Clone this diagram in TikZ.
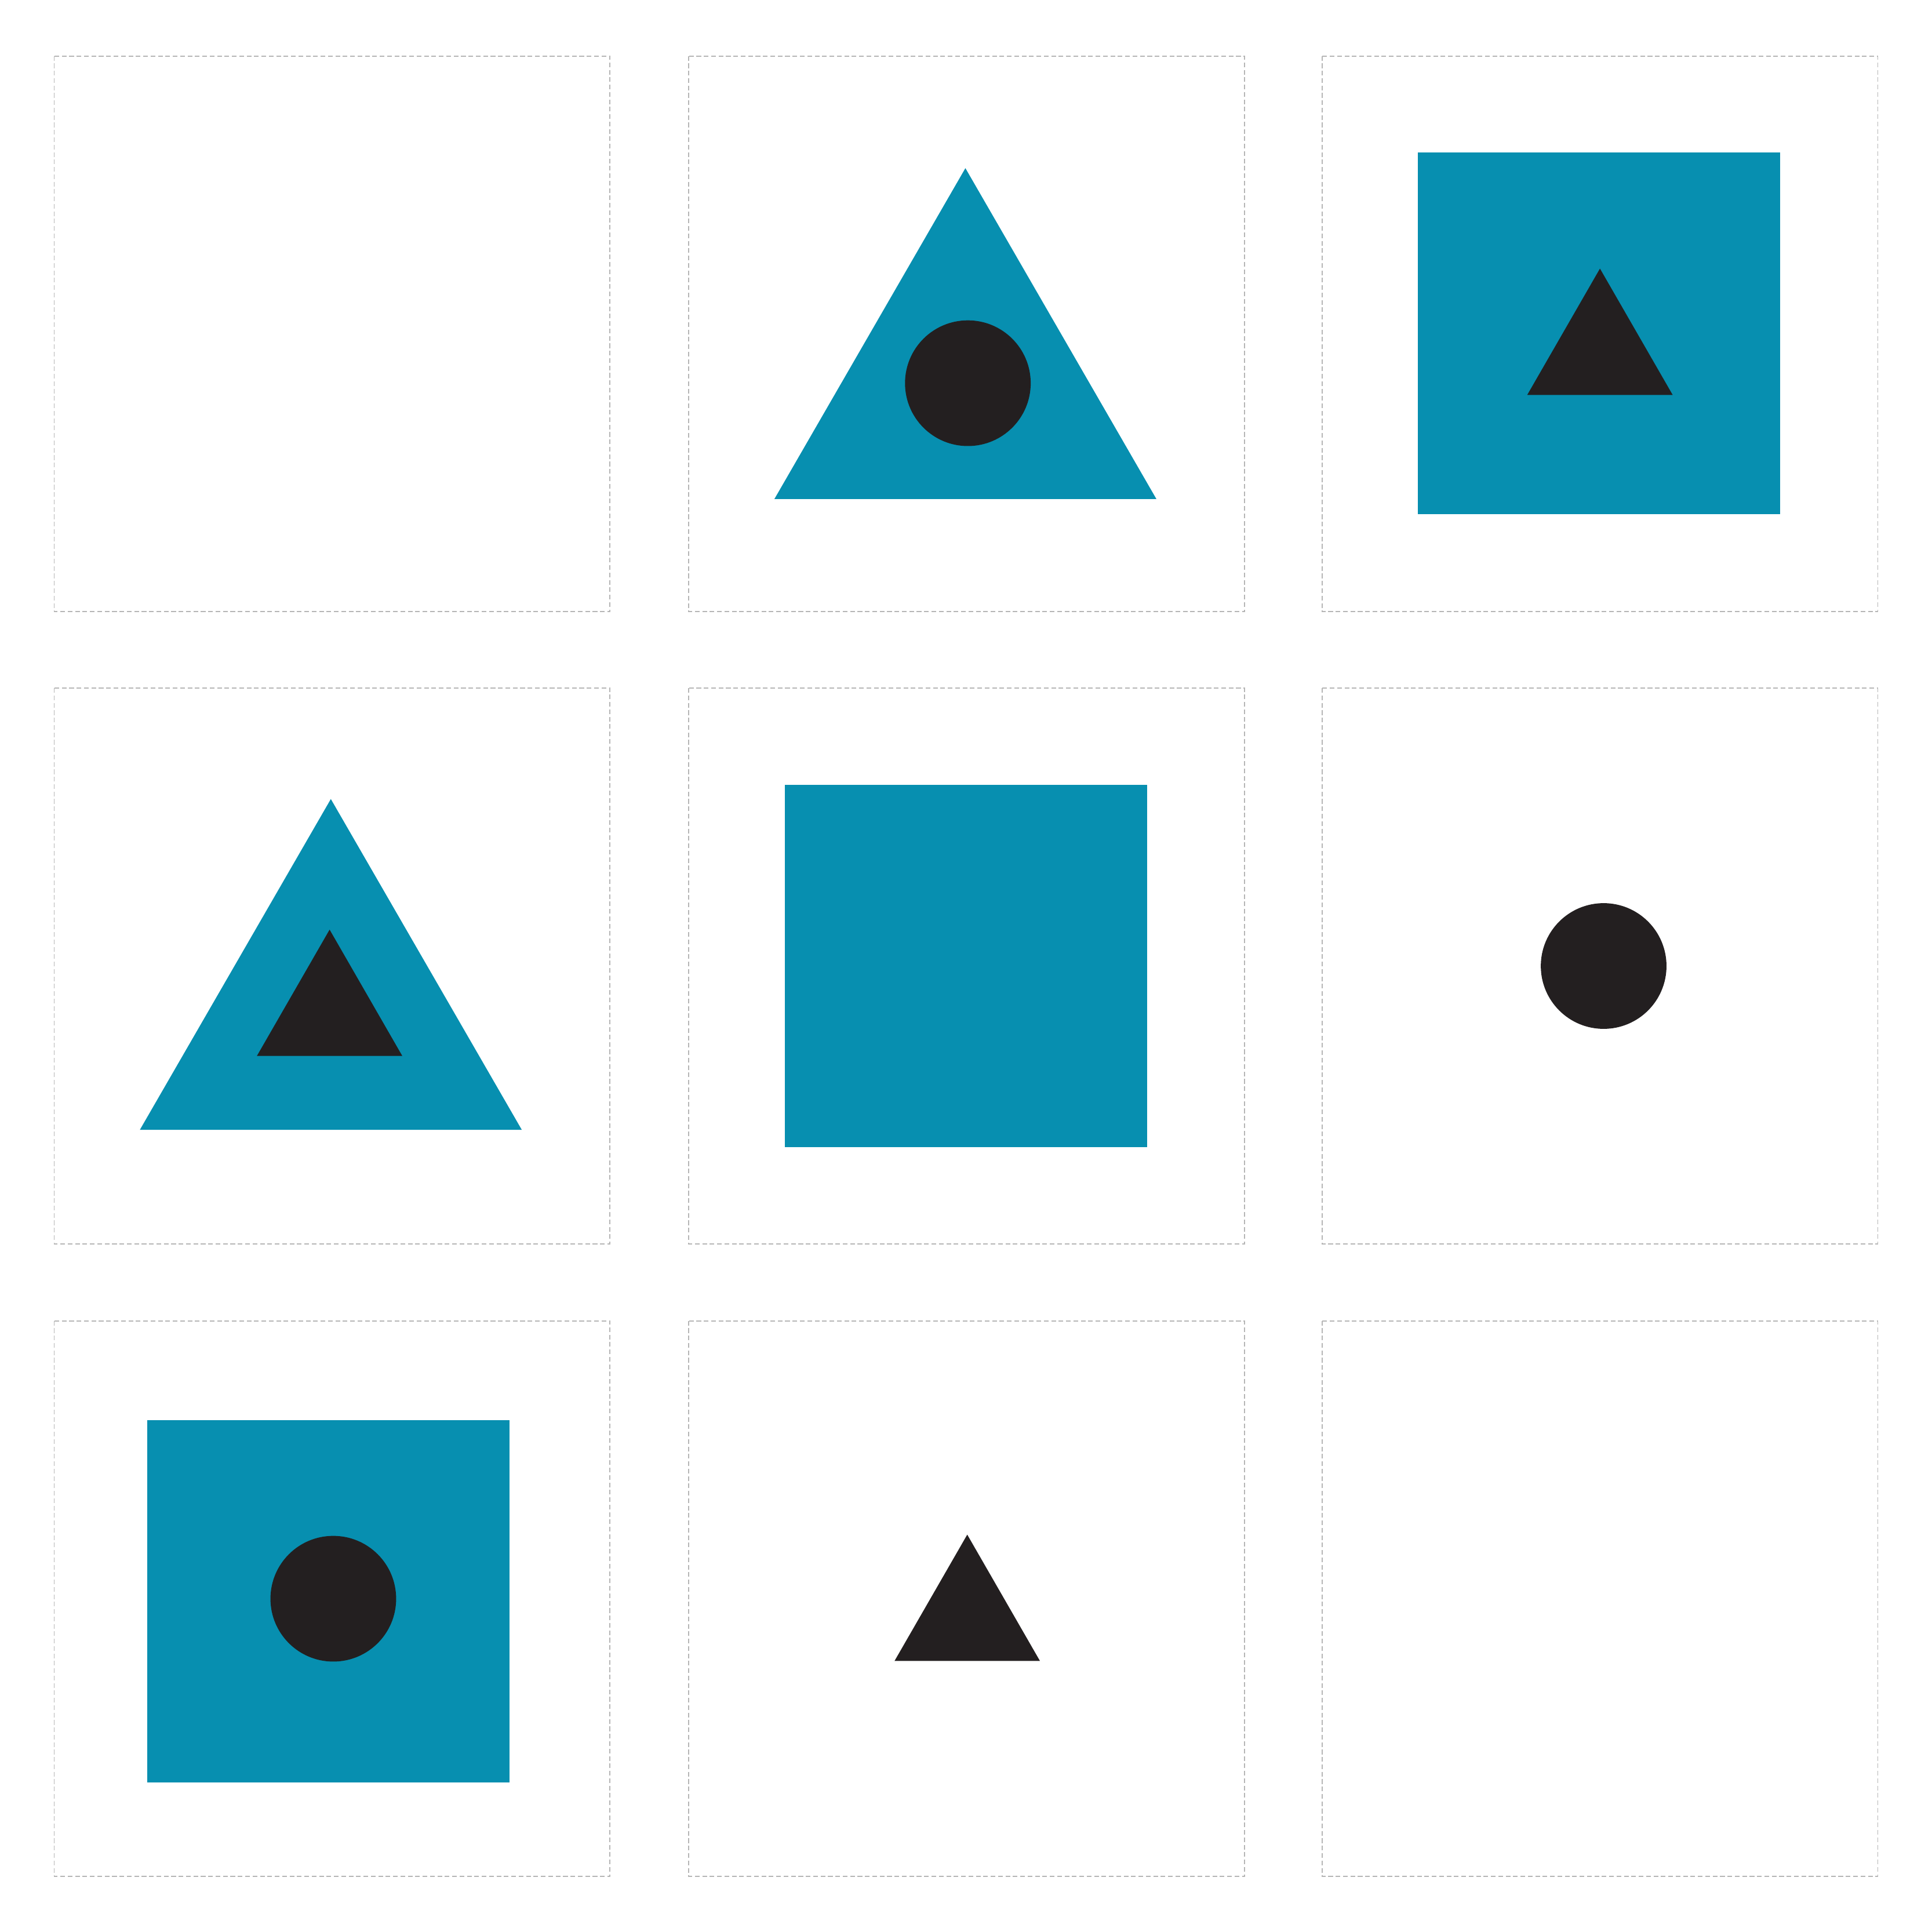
\documentclass[tikz,border=0pt]{standalone}
\definecolor{tealc}{HTML}{078FB0}
\definecolor{darkc}{HTML}{231F20}
\definecolor{cellgray}{HTML}{B5B5B5}
\begin{document}
\begin{tikzpicture}[x=1pt,y=-1pt,
  cell/.style={draw=cellgray,line width=0.9pt,dash pattern=on 3.8pt off 2.2pt},
  bigshape/.style={fill=tealc},
  smallshape/.style={fill=darkc}]
\useasboundingbox (0,0) rectangle (1568,1568);
% cells
\foreach \x in {44,559,1073}{
  \foreach \y in {45.5,558.5,1072}{
    \draw[cell] (\x,\y) rectangle ++(451,451);
  }
}
% row 1, col 2: teal triangle with dark circle
\fill[bigshape] (783.5,136.5) -- (938.5,405) -- (628.5,405) -- cycle;
\fill[smallshape] (785.5,311) circle (51);
% row 1, col 3: teal square with dark triangle
\fill[bigshape] (1150.5,123.5) rectangle (1444.5,417.5);
\fill[smallshape] (1298.5,218) -- (1357.5,320.5) -- (1239.5,320.5) -- cycle;
% row 2, col 1: teal triangle with dark triangle
\fill[bigshape] (268.5,648.5) -- (423.5,917) -- (113.5,917) -- cycle;
\fill[smallshape] (267.5,754.5) -- (326.5,857) -- (208.5,857) -- cycle;
% row 2, col 2: teal square
\fill[bigshape] (637,637) rectangle (931,931);
% row 2, col 3: dark circle
\fill[smallshape] (1301.5,784) circle (51);
% row 3, col 1: teal square with dark circle
\fill[bigshape] (119.5,1152.5) rectangle (413.5,1446.5);
\fill[smallshape] (270.5,1297.5) circle (51);
% row 3, col 2: dark triangle
\fill[smallshape] (785,1245.5) -- (844,1348) -- (726,1348) -- cycle;
\end{tikzpicture}
\end{document}
